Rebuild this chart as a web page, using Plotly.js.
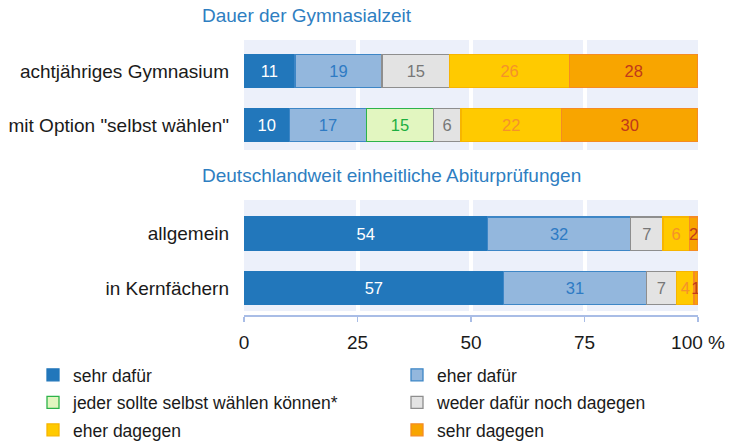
<!DOCTYPE html>
<html><head><meta charset="utf-8">
<script src="https://cdn.plot.ly/plotly-3.0.1.min.js"></script>
<style>html,body{margin:0;padding:0;background:#fff;overflow:hidden}</style>
</head><body><div id="chart" style="width:729px;height:448px"></div>
<script>
// ---- data ----
const seriesNames = ["sehr dafür", "eher dafür", "jeder sollte selbst wählen können*", "weder dafür noch dagegen", "eher dagegen", "sehr dagegen"];
const topTitle = "Dauer der Gymnasialzeit";
const bottomTitle = "Deutschlandweit einheitliche Abiturprüfungen";
const topCategories = ["achtjähriges Gymnasium", "mit Option \"selbst wählen\""];
const bottomCategories = ["allgemein", "in Kernfächern"];
// percentages (labels show rounded values)
const topSehrDafuer   = [11.2, 10.0];
const topEherDafuer   = [19.2, 17.0];
const topJeder        = [null, 14.7];
const topWeder        = [14.9, 6.1];
const topEherDagegen  = [26.4, 22.1];
const topSehrDagegen  = [28.3, 30.1];
const botSehrDafuer   = [53.6, 57.2];
const botEherDafuer   = [31.6, 31.4];
const botWeder        = [7.1, 6.7];
const botEherDagegen  = [5.8, 3.8];
const botSehrDagegen  = [1.9, 0.9];
const tickValues = [0, 25, 50, 75, 100];
const tickLabels = ["0", "25", "50", "75", "100 %"];

// ---- styles ----
const fills   = ["#2277BB", "#93B7DD", "#E2F6C0", "#E3E3E3", "#FFCA00", "#F8A500"];
const borders = ["#2277BB", "#3D86C6", "#2DB34A", "#8E8E8E", "#F7B500", "#F58B24"];
const textCols = ["#FFFFFF", "#2E7BC4", "#1DAF3F", "#777777", "#F5922A", "#C0391B"];
const legendOf = ["legend", "legend2", "legend", "legend2", "legend", "legend2"];
const FONT = "Liberation Sans, Arial, sans-serif";

function mk(name, idx, x, cats, xa, ya, showLeg) {
  return {
    type: "bar", orientation: "h", name: name,
    x: x, y: cats, xaxis: xa, yaxis: ya,
    marker: {color: fills[idx], line: {color: borders[idx], width: 1.3}},
    texttemplate: "%{x:.0f}", textposition: "inside", insidetextanchor: "middle",
    textangle: 0,
    insidetextfont: {family: FONT, size: 16.5, color: textCols[idx]},
    showlegend: showLeg, legend: legendOf[idx], legendgroup: "g" + idx, hoverinfo: "skip"
  };
}
const topVals = [topSehrDafuer, topEherDafuer, topJeder, topWeder, topEherDagegen, topSehrDagegen];
const botVals = [botSehrDafuer, botEherDafuer, null, botWeder, botEherDagegen, botSehrDagegen];
const data = [];
topVals.forEach((v, i) => data.push(mk(seriesNames[i], i, v, topCategories, "x", "y", true)));
botVals.forEach((v, i) => { if (v) data.push(mk(seriesNames[i], i, v, bottomCategories, "x2", "y2", false)); });

const H = 448, L = 244, PW = 454;
const py = px => (H - px) / H;
const pxx = px => (px - L) / PW;
const gridAxis = {
  range: [0, 100], tickvals: tickValues, showgrid: true, gridcolor: "#FFFFFF", gridwidth: 4,
  zeroline: false, fixedrange: true
};
const legendBase = {orientation: "v", xanchor: "left", yanchor: "top", y: py(357),
  font: {size: 17.5, color: "#1A1A1A"}, traceorder: "grouped", tracegroupgap: 1.75,
  bgcolor: "rgba(0,0,0,0)", borderwidth: 0, indentation: -10};
const layout = {
  width: 729, height: 448,
  margin: {l: L, r: 729 - L - PW, t: 0, b: 0},
  paper_bgcolor: "#FFFFFF", plot_bgcolor: "#ECF0FA",
  barmode: "stack", bargap: 0.39,
  font: {family: FONT, size: 17, color: "#1A1A1A"},
  showlegend: true,
  uniformtext: {mode: "show", minsize: 16.5},
  xaxis: Object.assign({}, gridAxis, {anchor: "y", showticklabels: false, ticks: ""}),
  yaxis: {domain: [py(150), py(40)], range: [1.46, -0.57], type: "category",
          ticks: "", ticklabelstandoff: 14, tickfont: {size: 19, color: "#1A1A1A"}, showgrid: false, fixedrange: true},
  xaxis2: Object.assign({}, gridAxis, {anchor: "free", position: py(315), ticktext: tickLabels,
          showline: true, linecolor: "#A9BDE6", linewidth: 1.5, ticks: "outside", ticklen: 5,
          tickcolor: "#A9BDE6", tickwidth: 1.5, tickfont: {size: 19, color: "#1A1A1A"}, ticklabelstandoff: 5}),
  yaxis2: {domain: [py(311), py(200)], range: [1.42, -0.62], type: "category",
          ticks: "", ticklabelstandoff: 14, tickfont: {size: 19, color: "#1A1A1A"}, showgrid: false, fixedrange: true},
  legend: Object.assign({}, legendBase, {x: pxx(43)}),
  legend2: Object.assign({}, legendBase, {x: pxx(407)}),
  annotations: [
    {text: topTitle, xref: "paper", yref: "paper", x: pxx(200), y: py(16), xanchor: "left", yanchor: "middle",
     showarrow: false, font: {size: 19, color: "#2E7EC1"}},
    {text: bottomTitle, xref: "paper", yref: "paper", x: pxx(200), y: py(175), xanchor: "left", yanchor: "middle",
     showarrow: false, font: {size: 19, color: "#2E7EC1"}}
  ]
};
Plotly.newPlot("chart", data, layout, {displayModeBar: false, staticPlot: true});
</script>
</body></html>
